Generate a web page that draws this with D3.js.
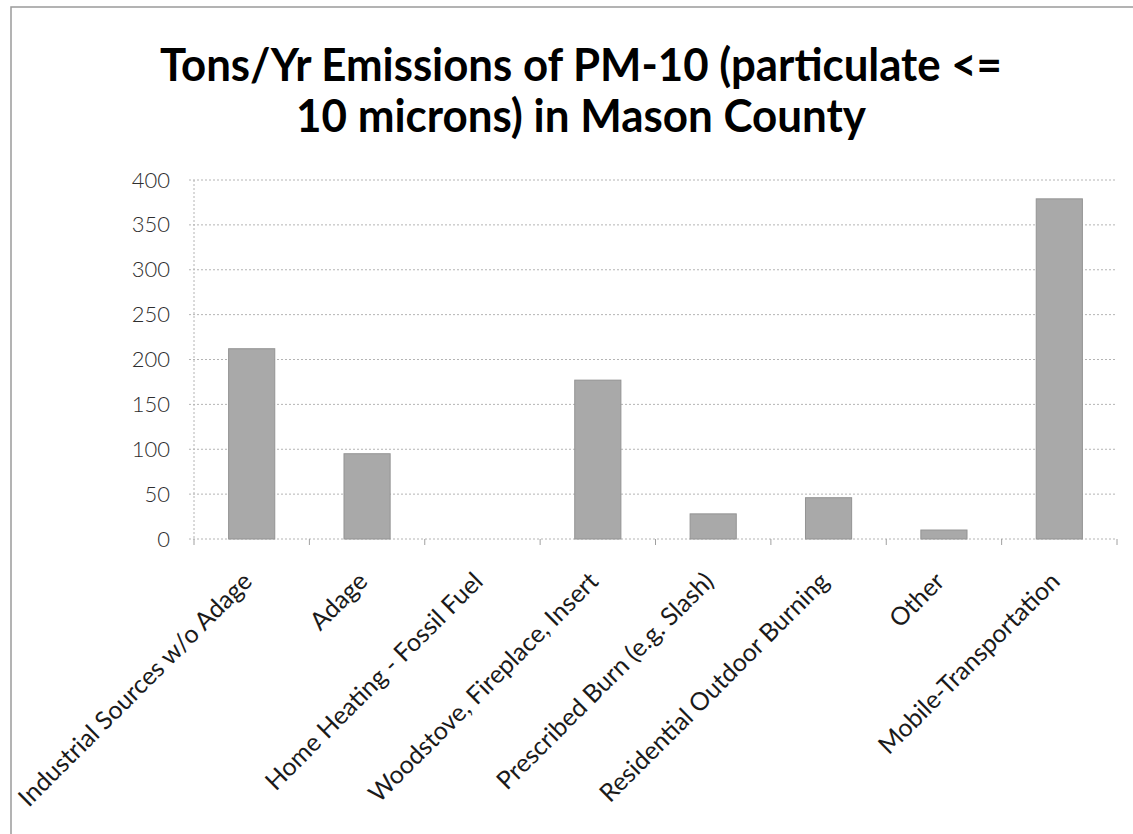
<!DOCTYPE html>
<html>
<head>
<meta charset="utf-8">
<script src="https://cdn.jsdelivr.net/npm/d3@7"></script>
<style>
  body { margin: 0; background: #fff; }
  svg { display: block; }
  .grid line { stroke: #b4b4b4; stroke-dasharray: 2,2; }
</style>
</head>
<body>
<div id="chart"></div>
<script>
// data
var categories = [
    "Industrial Sources w/o Adage",
    "Adage",
    "Home Heating - Fossil Fuel",
    "Woodstove, Fireplace, Insert",
    "Prescribed Burn (e.g. Slash)",
    "Residential Outdoor Burning",
    "Other",
    "Mobile-Transportation"
];
var tonsPerYear = [212, 95, 0, 177, 28, 46, 10, 379];
var yTicks = [0, 50, 100, 150, 200, 250, 300, 350, 400];
var titleLines = ["Tons/Yr Emissions of PM-10 (particulate <=", "10 microns) in Mason County"];

var width = 1133, height = 834;
var margin = {top: 180, right: 16, bottom: 295, left: 194};

var svg = d3.select("#chart").append("svg")
    .attr("width", width)
    .attr("height", height);

// chart border (runs off the right and bottom edge)
svg.append("rect")
    .attr("x", 11).attr("y", 7)
    .attr("width", width + 20).attr("height", height + 20)
    .attr("fill", "none")
    .attr("stroke", "#9a9a9a")
    .attr("stroke-width", 1.5);

// title
var titleLen = [842, 570];
svg.append("g").selectAll("text")
    .data(titleLines)
    .enter().append("text")
    .attr("x", 581)
    .attr("y", function (d, i) { return 81 + i * 51; })
    .attr("text-anchor", "middle")
    .attr("textLength", function (d, i) { return titleLen[i]; })
    .attr("lengthAdjust", "spacingAndGlyphs")
    .style("font-family", "Lato, 'Open Sans', sans-serif")
    .style("font-weight", "bold")
    .style("font-size", "45px")
    .attr("fill", "#000")
    .text(function (d) { return d; });

var innerW = width - margin.left - margin.right;
var innerH = height - margin.top - margin.bottom;

var g = svg.append("g")
    .attr("transform", "translate(" + margin.left + "," + margin.top + ")");

var x = d3.scaleBand()
    .domain(categories)
    .range([0, innerW])
    .paddingInner(0.6)
    .paddingOuter(0.3);

var y = d3.scaleLinear()
    .domain([0, 400])
    .range([innerH, 0]);

// gridlines
g.append("g")
    .attr("class", "grid")
    .selectAll("line")
    .data(yTicks)
    .enter().append("line")
    .attr("x1", -5)
    .attr("x2", innerW)
    .attr("y1", function (d) { return y(d); })
    .attr("y2", function (d) { return y(d); });

// vertical axis line
g.append("line")
    .attr("x1", 0).attr("x2", 0)
    .attr("y1", 0).attr("y2", innerH)
    .attr("stroke", "#b4b4b4")
    .attr("stroke-dasharray", "2,2");

// y labels
var yAxis = g.append("g")
    .call(d3.axisLeft(y).tickValues(yTicks).tickSize(0).tickPadding(24));
yAxis.select(".domain").remove();
yAxis.selectAll("text")
    .style("font-family", "Lato, 'Open Sans', sans-serif")
    .style("font-weight", "300")
    .style("font-size", "22px")
    .attr("fill", "#2e2e2e");

// category tick marks between bars
var step = x.step();
var boundaries = d3.range(categories.length + 1);
g.append("g").selectAll("line")
    .data(boundaries)
    .enter().append("line")
    .attr("x1", function (d) { return x(categories[0]) - x.bandwidth() * 0.75 + d * step; })
    .attr("x2", function (d) { return x(categories[0]) - x.bandwidth() * 0.75 + d * step; })
    .attr("y1", innerH)
    .attr("y2", innerH + 6)
    .attr("stroke", "#a0a0a0");

// bars
g.append("g").selectAll("rect")
    .data(tonsPerYear)
    .enter().append("rect")
    .attr("x", function (d, i) { return x(categories[i]); })
    .attr("width", x.bandwidth())
    .attr("y", function (d) { return y(d); })
    .attr("height", function (d) { return innerH - y(d); })
    .attr("fill", "#a9a9a9")
    .attr("stroke", "#939393")
    .attr("stroke-width", 1);

// rotated category labels
g.append("g").selectAll("text")
    .data(categories)
    .enter().append("text")
    .attr("transform", function (d) {
        return "translate(" + (x(d) + x.bandwidth() / 2 + 2) + "," + (innerH + 44) + ") rotate(-45)";
    })
    .attr("text-anchor", "end")
    .style("font-family", "Lato, 'Open Sans', sans-serif")
    .style("font-size", "25px")
    .attr("fill", "#1a1a1a")
    .text(function (d) { return d; });
</script>
</body>
</html>
